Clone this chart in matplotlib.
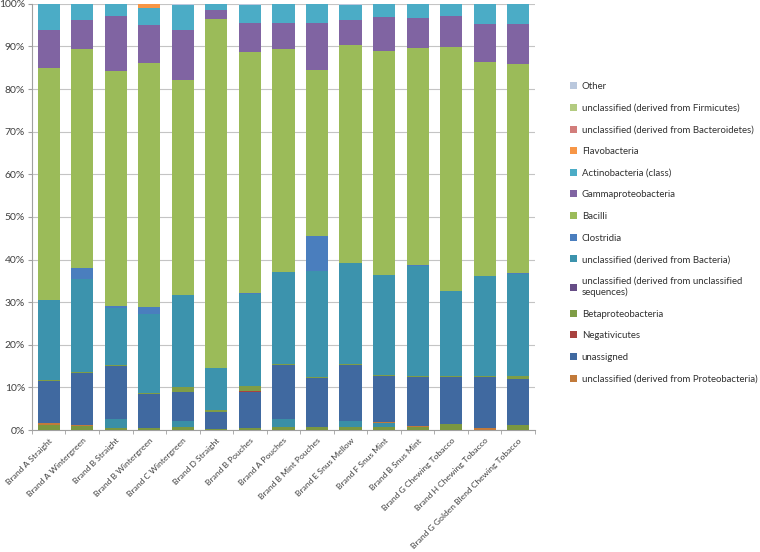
import matplotlib
matplotlib.use('Agg')
import matplotlib.pyplot as plt
import numpy as np
from matplotlib.ticker import PercentFormatter

plt.rcParams['font.family'] = ['Lato', 'DejaVu Sans']

brands = ['Brand A Straight', 'Brand A Wintergreen', 'Brand B Straight', 'Brand B Wintergreen',
          'Brand C Wintergreen', 'Brand D Straight', 'Brand B Pouches', 'Brand A Pouches',
          'Brand B Mint Pouches', 'Brand E Snus Mellow', 'Brand F Snus Mint', 'Brand B Snus Mint',
          'Brand G Chewing Tobacco', 'Brand H Chewing Tobacco', 'Brand G Golden Blend Chewing Tobacco']

# small groups at the very bottom that the legend does not list
extra_green = [1.2, 0.9, 0.4, 0.4, 0.8, 0.2, 0.4, 0.8, 0.8, 0.8, 0.6, 0.6, 1.3, 0.1, 1.2]
extra_teal = [0, 0, 2.1, 0, 1.2, 0, 0, 1.7, 0, 1.2, 1.1, 0, 0, 0, 0]

proteo_uncl = [0.4, 0.3, 0, 0, 0, 0, 0, 0, 0, 0, 0.2, 0.3, 0, 0.4, 0]
unassigned = [10.0, 12.1, 12.6, 8.1, 7.0, 4.1, 8.5, 12.8, 11.4, 13.3, 10.8, 11.6, 11.2, 12.0, 10.7]
negativicutes = [0, 0, 0, 0, 0, 0, 0.2, 0, 0, 0, 0, 0, 0, 0, 0]
betaproteo = [0.2, 0.2, 0.2, 0.3, 1.0, 0.3, 1.2, 0.2, 0.3, 0.2, 0.2, 0.2, 0.2, 0.2, 0.8]
seq_uncl = [0, 0, 0, 0, 0, 0, 0, 0, 0, 0, 0, 0, 0, 0, 0]
bacteria_uncl = [18.7, 21.9, 13.4, 18.4, 21.6, 10.0, 21.6, 21.6, 24.9, 23.7, 23.5, 25.8, 20.0, 23.5, 24.0]
clostridia = [0, 2.6, 0.4, 1.7, 0, 0, 0.2, 0, 8.1, 0, 0, 0.2, 0, 0, 0.2]
bacilli = [54.5, 51.5, 55.2, 57.3, 50.6, 81.8, 56.6, 52.4, 39.0, 51.2, 52.6, 51.0, 57.1, 50.2, 49.0]
gammaproteo = [8.9, 6.7, 12.9, 8.9, 11.7, 2.2, 6.9, 6.1, 11.1, 5.8, 8.0, 7.0, 7.4, 8.9, 9.4]
actinobacteria = [6.1, 3.8, 2.8, 4.0, 5.9, 1.4, 4.2, 4.4, 4.4, 3.6, 3.0, 3.3, 2.8, 4.7, 4.7]
flavobacteria = [0, 0, 0, 0.9, 0, 0, 0, 0, 0, 0, 0, 0, 0, 0, 0]
bacteroidetes_uncl = [0, 0, 0, 0, 0, 0, 0, 0, 0, 0, 0, 0, 0, 0, 0]
firmicutes_uncl = [0, 0, 0, 0, 0, 0, 0, 0, 0, 0, 0, 0, 0, 0, 0]
other = [0, 0, 0, 0, 0.2, 0, 0.2, 0, 0, 0.2, 0, 0, 0, 0, 0]

# bottom to top
series = [
    ('_extra_green', extra_green, '#7A9740'),
    ('_extra_teal', extra_teal, '#3A8FA6'),
    ('unclassified (derived from Proteobacteria)', proteo_uncl, '#C27A3A'),
    ('unassigned', unassigned, '#4069A0'),
    ('Negativicutes', negativicutes, '#A8423F'),
    ('Betaproteobacteria', betaproteo, '#7F9D46'),
    ('unclassified (derived from unclassified\nsequences)', seq_uncl, '#664D86'),
    ('unclassified (derived from Bacteria)', bacteria_uncl, '#3C93AD'),
    ('Clostridia', clostridia, '#4A7EBE'),
    ('Bacilli', bacilli, '#9BBB59'),
    ('Gammaproteobacteria', gammaproteo, '#8064A2'),
    ('Actinobacteria (class)', actinobacteria, '#4BACC6'),
    ('Flavobacteria', flavobacteria, '#F79646'),
    ('unclassified (derived from Bacteroidetes)', bacteroidetes_uncl, '#D27D7B'),
    ('unclassified (derived from Firmicutes)', firmicutes_uncl, '#B3CB80'),
    ('Other', other, '#BAC8DD'),
]

fig = plt.figure(figsize=(7.6, 5.52), dpi=100)
ax = fig.add_axes([0.042, 0.221, 0.662, 0.772])

x = np.arange(len(brands))
bottom = np.zeros(len(brands))
handles = []
labels = []
for name, vals, col in series:
    vals = np.array(vals, dtype=float)
    b = ax.bar(x, vals, 0.66, bottom=bottom, color=col, linewidth=0, zorder=3)
    bottom += vals
    if not name.startswith('_'):
        handles.append(b)
        labels.append(name)

ax.set_xlim(-0.5, len(brands) - 0.5)
ax.set_ylim(0, 100)
ax.set_yticks(np.arange(0, 101, 10))
ax.yaxis.set_major_formatter(PercentFormatter(decimals=0))
ax.grid(axis='y', color='#C4C4C4', linewidth=0.8, zorder=0)

ax.set_xticks(x)
ax.set_xticklabels(brands, rotation=45, ha='right', va='top', rotation_mode='anchor',
                   fontsize=6.1, color='#404040')
ax.set_xticks(np.arange(-0.5, len(brands)), minor=True)
ax.tick_params(axis='x', which='major', length=0, pad=5)
ax.tick_params(axis='x', which='minor', length=3, color='#A0A0A0')
ax.tick_params(axis='y', length=3, color='#A0A0A0', labelsize=7.5, labelcolor='#404040', pad=2)

for s in ['top', 'right']:
    ax.spines[s].set_visible(False)
for s in ['left', 'bottom']:
    ax.spines[s].set_color('#A0A0A0')
    ax.spines[s].set_linewidth(0.8)

fig.legend(handles[::-1], labels[::-1], loc='upper left', bbox_to_anchor=(0.744, 0.86),
           frameon=False, fontsize=6.9, handlelength=0.75, handleheight=0.75,
           handletextpad=0.45, labelspacing=1.32, borderpad=0, labelcolor='#303030')

fig.savefig('out.png', dpi=100)
